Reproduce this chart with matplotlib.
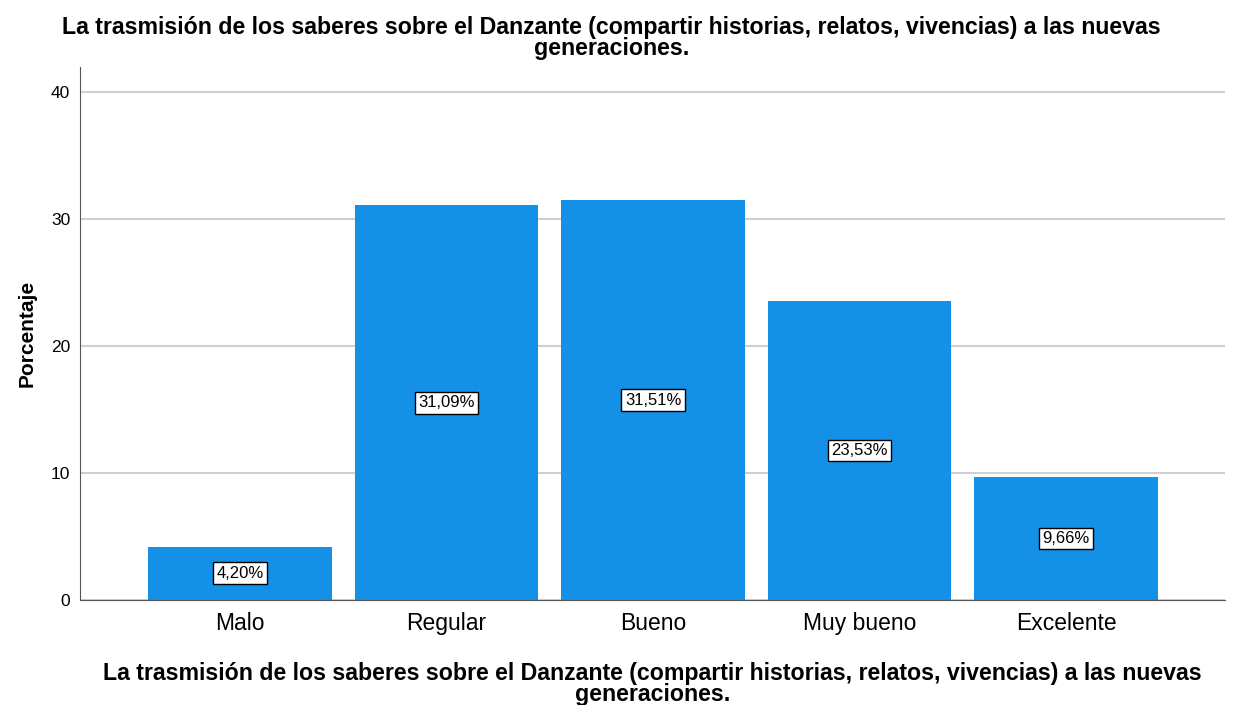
import matplotlib
matplotlib.use("Agg")
import matplotlib.pyplot as plt

categories = ["Malo", "Regular", "Bueno", "Muy bueno", "Excelente"]
values = [4.20, 31.09, 31.51, 23.53, 9.66]
labels = ["4,20%", "31,09%", "31,51%", "23,53%", "9,66%"]
yticks = [0, 10, 20, 30, 40]
title = "La trasmisión de los saberes sobre el Danzante (compartir historias, relatos, vivencias) a las nuevas\ngeneraciones."

plt.rcParams['font.family'] = ['Liberation Sans', 'DejaVu Sans']

fig = plt.figure(figsize=(12.33, 7.05), dpi=100)
ax = fig.add_axes([0.0649, 0.149, 0.9286, 0.756])

x = list(range(len(categories)))
ax.bar(x, values, width=0.89, color="#1490E6", zorder=2)
for xi, v, lab in zip(x, values, labels):
    ax.text(xi, v / 2, lab, ha="center", va="center", fontsize=12, zorder=3,
            bbox=dict(boxstyle="square,pad=0.2", facecolor="white", edgecolor="black", linewidth=1))

ax.set_xlim(-0.775, 4.77)
ax.set_ylim(0, 42)
ax.set_yticks(yticks)
ax.set_yticklabels([str(t) for t in yticks], fontsize=12.5)
ax.set_xticks(x)
ax.set_xticklabels(categories, fontsize=16.5)
ax.tick_params(axis="y", length=0, pad=7)
ax.tick_params(axis="x", length=0, pad=9)
ax.grid(axis="y", color="#d0d0d0", linewidth=1.5, zorder=0)
for s in ["top", "right"]:
    ax.spines[s].set_visible(False)
ax.spines["left"].set_color("#555555")
ax.spines["bottom"].set_color("#555555")

ax.set_ylabel("Porcentaje", fontsize=15, fontweight="bold", labelpad=10)
ax.set_xlabel(title, fontsize=16.7, fontweight="bold", labelpad=19, linespacing=0.9)
fig.text(0.496, 0.978, title, ha="center", va="top", fontsize=16.7, fontweight="bold", linespacing=0.9)

fig.savefig("out.png", dpi=100)
